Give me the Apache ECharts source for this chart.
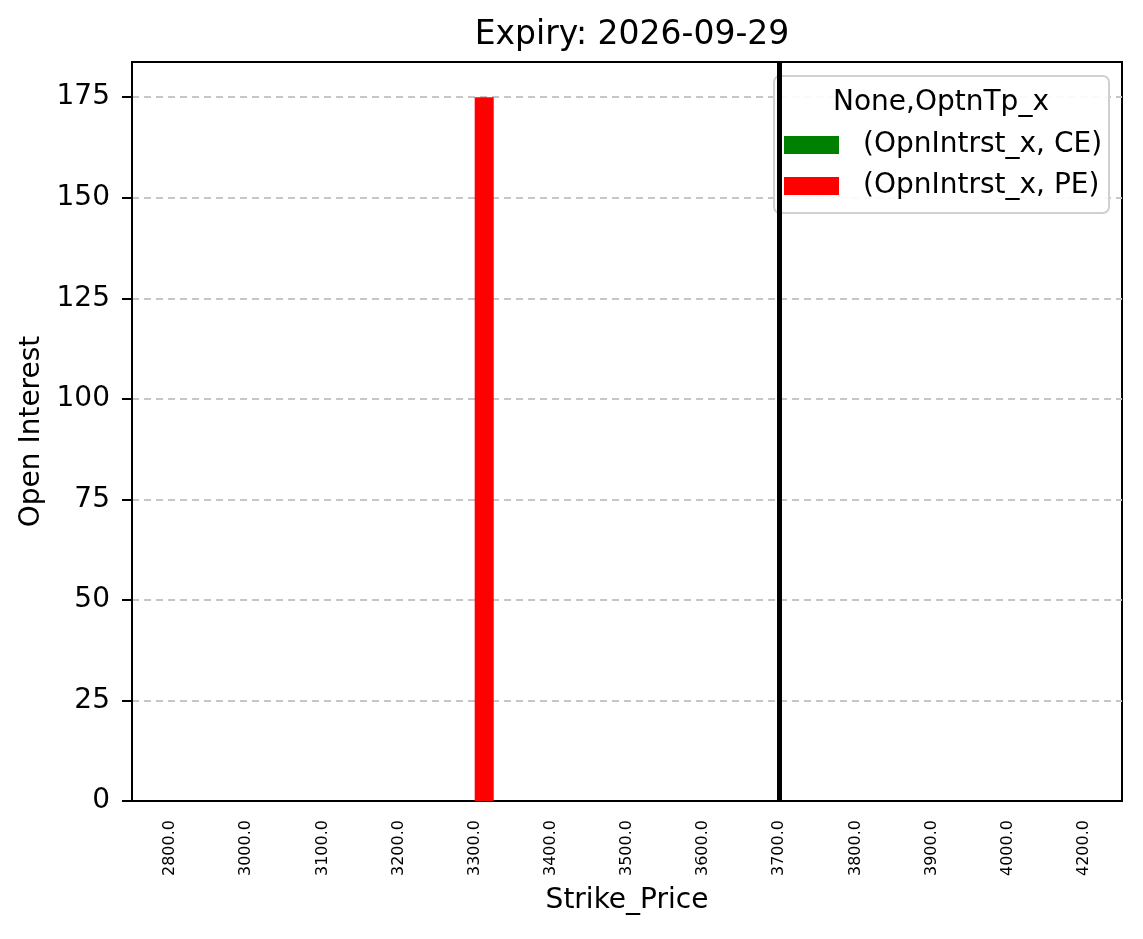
<!DOCTYPE html>
<html>
<head>
<meta charset="utf-8">
<title>Expiry: 2026-09-29</title>
<script src="https://cdn.jsdelivr.net/npm/echarts@6/dist/echarts.min.js"></script>
<style>
	html,body{margin:0;padding:0;background:#fff;}
	#chart{width:1143px;height:939px;}
</style>
</head>
<body>
<div id="chart"></div>
<script>
//行权价和持仓量
var strikes=['2800.0','3000.0','3100.0','3200.0','3300.0','3400.0','3500.0','3600.0','3700.0','3800.0','3900.0','4000.0','4200.0'];
var ceOI=[0,0,0,0,0,0,0,0,0,0,0,0,0];
var peOI=[0,0,0,0,175,0,0,0,0,0,0,0,0];
var yTicks=[0,25,50,75,100,125,150,175];
var spotStrike='3700.0';

var font='DejaVu Sans';
var myChart=echarts.init(document.getElementById("chart"));
var option={
	animation:false,
	textStyle:{fontFamily:font},
	title:{
		text:'Expiry: 2026-09-29',
		left:627,
		top:14,
		textAlign:'center',
		textStyle:{fontFamily:font,fontSize:33,fontWeight:'normal',color:'#000'}
	},
	grid:{
		left:132,
		top:62,
		width:990,
		height:739,
		show:true,
		borderColor:'#000',
		borderWidth:2,
		backgroundColor:'transparent'
	},
	legend:{
		orient:'vertical',
		left:784,
		top:131,
		padding:0,
		itemWidth:55,
		itemHeight:18,
		itemGap:13,
		icon:'rect',
		textStyle:{fontFamily:font,fontSize:28,color:'#000',padding:[0,0,0,19]},
		data:['(OpnIntrst_x, CE)','(OpnIntrst_x, PE)'],
		z:5
	},
	graphic:[
		{
			type:'rect',
			shape:{x:774,y:76,width:335,height:137,r:6},
			style:{fill:'rgba(255,255,255,0.9)',stroke:'#d0d0d0',lineWidth:2},
			z:1
		},
		{
			type:'text',
			x:941,
			y:103,
			style:{text:'None,OptnTp_x',font:'28px "DejaVu Sans"',fill:'#000',textAlign:'center',textVerticalAlign:'middle'},
			z:5
		}
	],
	xAxis:{
		type:'category',
		data:strikes,
		boundaryGap:true,
		name:'Strike_Price',
		nameLocation:'middle',
		nameGap:86,
		nameTextStyle:{fontFamily:font,fontSize:28,color:'#000'},
		axisLine:{lineStyle:{color:'#000',width:2}},
		axisTick:{alignWithLabel:true,length:10,lineStyle:{color:'#000',width:2}},
		axisLabel:{rotate:90,fontSize:16,color:'#000',margin:19,interval:0,fontFamily:font},
		splitLine:{show:false}
	},
	yAxis:{
		type:'value',
		min:0,
		max:183.75,
		name:'Open Interest',
		nameLocation:'middle',
		nameGap:85,
		nameTextStyle:{fontFamily:font,fontSize:28,color:'#000'},
		axisLine:{show:true,lineStyle:{color:'#000',width:2}},
		axisTick:{show:true,length:10,customValues:yTicks,lineStyle:{color:'#000',width:2}},
		axisLabel:{fontSize:28,color:'#000',margin:22,customValues:yTicks,fontFamily:font},
		splitLine:{show:true,lineStyle:{color:'#c6c6c6',width:2,type:[7,5]}}
	},
	series:[
		{
			name:'(OpnIntrst_x, CE)',
			type:'bar',
			data:ceOI,
			barWidth:'25%',
			barGap:'0%',
			itemStyle:{color:'#008000'}
		},
		{
			name:'(OpnIntrst_x, PE)',
			type:'bar',
			data:peOI,
			barWidth:'25%',
			barGap:'0%',
			itemStyle:{color:'#ff0000'}
		},
		{
			//现价竖线
			name:'spot',
			type:'line',
			data:[],
			z:6,
			markLine:{
				silent:true,
				symbol:['none','none'],
				label:{show:false},
				lineStyle:{color:'#000',width:5,type:'solid'},
				data:[{xAxis:spotStrike}]
			}
		}
	]
};
myChart.setOption(option);
</script>
</body>
</html>
